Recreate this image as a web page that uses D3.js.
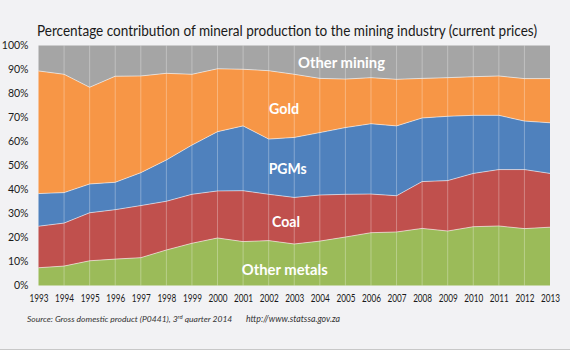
<!DOCTYPE html>
<html>
<head>
<meta charset="utf-8">
<script src="https://cdn.jsdelivr.net/npm/d3@7"></script>
<style>
  body { margin: 0; background: #f2f2f4; }
  svg { display: block; font-family: Lato, "Open Sans", sans-serif; }
</style>
</head>
<body>
<svg width="570" height="350"></svg>
<script>
// share of each mineral (% of mining industry)
const years = d3.range(1993, 2014);
const otherMetals = [7.4, 8.1, 10.3, 11.0, 11.6, 14.8, 17.6, 19.8, 18.3, 18.7, 17.3, 18.5, 20.2, 22.0, 22.3, 23.8, 22.7, 24.5, 24.8, 23.7, 24.3];
const coal        = [17.3, 17.9, 20.0, 20.6, 21.7, 20.3, 20.4, 19.6, 21.2, 19.3, 19.4, 19.2, 17.8, 16.1, 15.1, 19.5, 21.0, 22.2, 23.5, 24.6, 22.4];
const pgms        = [13.6, 12.7, 12.0, 11.4, 13.7, 17.2, 20.5, 24.7, 27.0, 23.0, 25.0, 26.0, 27.8, 29.3, 29.1, 26.5, 26.8, 24.2, 22.6, 20.2, 21.1];
const gold        = [51.1, 49.3, 40.3, 44.2, 40.3, 36.1, 29.5, 26.2, 23.6, 28.5, 26.3, 22.6, 20.2, 19.2, 19.4, 16.5, 16.1, 16.1, 16.4, 17.7, 18.4];
const otherMining = [10.6, 12.0, 17.4, 12.8, 12.7, 11.6, 12.0, 9.7, 9.9, 10.5, 12.0, 13.7, 14.0, 13.4, 14.1, 13.7, 13.4, 13.0, 12.7, 13.8, 13.8];

const seriesNames = ['Other metals', 'Coal', 'PGMs', 'Gold', 'Other mining'];
const seriesValues = [otherMetals, coal, pgms, gold, otherMining];
const seriesColors = ['#9bbb59', '#c0504d', '#4f81bd', '#f79646', '#a5a5a5'];
const yTicks = d3.range(0, 101, 10);

const svg = d3.select('svg');
const margin = { top: 45.5, right: 20, bottom: 64.5, left: 38.5 };
const width = +svg.attr('width');
const height = +svg.attr('height');
const innerWidth = width - margin.left - margin.right;
const innerHeight = height - margin.top - margin.bottom;

const table = years.map((y, i) => {
  const row = { year: y };
  seriesNames.forEach((n, k) => { row[n] = seriesValues[k][i]; });
  return row;
});

const stack = d3.stack().keys(seriesNames);
const layers = stack(table);

const xScale = d3.scaleLinear()
  .domain(d3.extent(years))
  .range([0, innerWidth]);

const yScale = d3.scaleLinear()
  .domain([0, 100])
  .range([innerHeight, 0]);

const colorScale = d3.scaleOrdinal()
  .domain(seriesNames)
  .range(seriesColors);

// outer frame line at the bottom
svg.append('line')
  .attr('x1', 0).attr('x2', width)
  .attr('y1', height - 0.5).attr('y2', height - 0.5)
  .attr('stroke', '#c8c8c8');

svg.append('text')
  .attr('x', 37)
  .attr('y', 36)
  .attr('fill', '#1a1a1a')
  .attr('textLength', 500)
  .attr('lengthAdjust', 'spacingAndGlyphs')
  .style('font-size', '15px')
  .text('Percentage contribution of mineral production to the mining industry (current prices)');

const g = svg.append('g')
  .attr('transform', `translate(${margin.left},${margin.top})`);

const area = d3.area()
  .x(d => xScale(d.data.year))
  .y0(d => yScale(d[0]))
  .y1(d => yScale(d[1]));

g.selectAll('.layer').data(layers)
  .enter().append('path')
    .attr('class', 'layer')
    .attr('d', area)
    .attr('fill', d => colorScale(d.key));

// thin light line on top of each layer
const topLine = d3.line()
  .x(d => xScale(d.data.year))
  .y(d => yScale(d[1]));

g.selectAll('.edge').data(layers.slice(0, -1))
  .enter().append('path')
    .attr('class', 'edge')
    .attr('d', topLine)
    .attr('fill', 'none')
    .attr('stroke', '#ffffff')
    .attr('stroke-opacity', 0.55)
    .attr('stroke-width', 1);

// vertical gridlines
g.selectAll('.vgrid').data(years.slice(1, -1))
  .enter().append('line')
    .attr('class', 'vgrid')
    .attr('x1', d => xScale(d)).attr('x2', d => xScale(d))
    .attr('y1', 0).attr('y2', innerHeight)
    .attr('stroke', '#ffffff')
    .attr('stroke-opacity', 0.3);

const yAxis = d3.axisLeft(yScale)
  .tickValues(yTicks)
  .tickFormat(d => d + '%')
  .tickSize(0)
  .tickPadding(10);

g.append('g')
  .call(yAxis)
  .call(a => a.select('.domain').remove())
  .selectAll('text')
    .attr('fill', '#1a1a1a')
    .style('font-size', '10.5px')
    .style('font-family', 'Lato, sans-serif');

const xAxis = d3.axisBottom(xScale)
  .tickValues(years)
  .tickFormat(d3.format('d'))
  .tickSize(0)
  .tickPadding(9);

g.append('g')
  .attr('transform', `translate(0,${innerHeight})`)
  .call(xAxis)
  .call(a => a.select('.domain').remove())
  .selectAll('text')
    .attr('fill', '#1a1a1a')
    .attr('textLength', 19)
    .attr('lengthAdjust', 'spacingAndGlyphs')
    .style('font-size', '10.5px')
    .style('font-family', 'Lato, sans-serif');

// series labels
const labelPos = [
  { name: 'Other metals', x: 284.7, y: 268, w: 86 },
  { name: 'Coal', x: 286, y: 220, w: 28 },
  { name: 'PGMs', x: 287.7, y: 167, w: 38 },
  { name: 'Gold', x: 284, y: 107, w: 30 },
  { name: 'Other mining', x: 341.5, y: 61, w: 87 }
];
svg.selectAll('.series-label').data(labelPos)
  .enter().append('text')
    .attr('class', 'series-label')
    .attr('x', d => d.x - d.w / 2)
    .attr('y', d => d.y)
    .attr('textLength', d => d.w)
    .attr('lengthAdjust', 'spacingAndGlyphs')
    .attr('dominant-baseline', 'central')
    .attr('fill', '#ffffff')
    .style('font-size', '16px')
    .style('font-weight', 'bold')
    .text(d => d.name);

// source line
const src = svg.append('text')
  .attr('x', 27)
  .attr('y', 322)
  .attr('fill', '#333')
  .style('font-size', '8.5px')
  .style('font-style', 'italic');
src.append('tspan').text('Source: Gross domestic product (P0441), 3');
src.append('tspan').attr('dy', -3).style('font-size', '6px').text('rd');
src.append('tspan').attr('dy', 3).text(' quarter 2014');
svg.append('text')
  .attr('x', 246)
  .attr('y', 322)
  .attr('fill', '#333')
  .style('font-size', '8.8px')
  .style('font-style', 'italic')
  .text('http://www.statssa.gov.za');
</script>
</body>
</html>
